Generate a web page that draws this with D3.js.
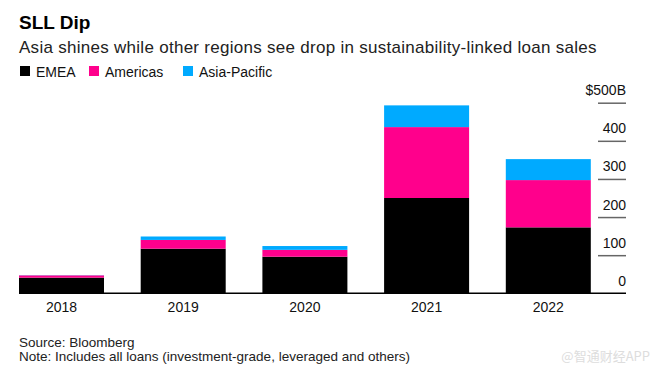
<!DOCTYPE html>
<html>
<head>
<meta charset="utf-8">
<script src="https://cdn.jsdelivr.net/npm/d3@7"></script>
<style>
  body { margin: 0; background: #fff; }
  svg { display: block; font-family: "Liberation Sans", Arial, sans-serif; }
</style>
</head>
<body>
<svg id="chart"></svg>
<script>
let w = 659;
let h = 375;

// data (USD billions)
const years = ['2018', '2019', '2020', '2021', '2022'];
const regions = ['EMEA', 'Americas', 'Asia-Pacific'];
const emea = [41, 117, 96, 250, 173];
const americas = [6, 23, 18, 186, 124];
const asiaPacific = [0.5, 9, 10, 57, 55];
const tickValues = [0, 100, 200, 300, 400, 500];

const colors = ['#000000', '#ff008c', '#00aaff'];

function createGraph() {
    const chart = d3.select('#chart')
        .attr('width', w)
        .attr('height', h);

    const rows = years.map((y, i) => ({
        year: y,
        'EMEA': emea[i],
        'Americas': americas[i],
        'Asia-Pacific': asiaPacific[i]
    }));

    const stacked = d3.stack().keys(regions)(rows);

    // bars are 85px wide with ~36.7px gaps, axis ticks to the right
    const x = d3.scaleBand()
        .domain(years)
        .range([19, 19 + 5 * 85 + 4 * 36.7])
        .paddingInner(36.7 / 121.7)
        .paddingOuter(0);

    const y = d3.scaleLinear()
        .domain([0, 500])
        .range([293.3, 102.7]);

    // title block
    chart.append('text')
        .attr('x', 19).attr('y', 29)
        .style('font-size', '19px')
        .style('font-weight', 'bold')
        .text('SLL Dip');

    chart.append('text')
        .attr('x', 19).attr('y', 53)
        .style('font-size', '17px')
        .style('letter-spacing', '0.28px')
        .style('fill', '#222')
        .text('Asia shines while other regions see drop in sustainability-linked loan sales');

    // legend
    const legendX = [20, 89, 183];
    const legend = chart.selectAll('.legend')
        .data(regions)
        .enter()
        .append('g')
        .attr('class', 'legend')
        .attr('transform', (d, i) => `translate(${legendX[i]},66)`);

    legend.append('rect')
        .attr('width', 10).attr('height', 10)
        .style('fill', (d, i) => colors[i]);

    legend.append('text')
        .attr('x', 16).attr('y', 10.5)
        .style('font-size', '14px')
        .style('fill', '#111')
        .text(d => d);

    // bars
    chart.selectAll('.series')
        .data(stacked)
        .enter()
        .append('g')
        .attr('class', 'series')
        .style('fill', (d, i) => colors[i])
        .selectAll('rect')
        .data(d => d)
        .enter()
        .append('rect')
        .attr('x', d => x(d.data.year))
        .attr('width', x.bandwidth())
        .attr('y', d => y(d[1]))
        .attr('height', d => y(d[0]) - y(d[1]));

    // y axis on the right: short tick lines with labels above
    const axis = d3.axisRight(y)
        .tickValues(tickValues)
        .tickSize(0)
        .tickFormat(d => d === 500 ? '$500B' : d);

    const yAxis = chart.append('g')
        .attr('transform', 'translate(626,0)')
        .call(axis);

    yAxis.select('.domain').remove();
    yAxis.selectAll('.tick line')
        .attr('x1', -28).attr('x2', 0)
        .attr('stroke', '#666')
        .attr('stroke-width', 1.5);
    yAxis.selectAll('.tick').filter(d => d === 0).select('line').remove();
    yAxis.selectAll('.tick text')
        .attr('x', 0)
        .attr('dy', null)
        .attr('y', -8)
        .attr('text-anchor', 'end')
        .style('font-size', '14px')
        .style('font-family', '"Liberation Sans", Arial, sans-serif')
        .style('fill', '#111');

    // baseline
    chart.append('line')
        .attr('x1', 19).attr('x2', 626)
        .attr('y1', y(0)).attr('y2', y(0))
        .attr('stroke', '#000')
        .attr('stroke-width', 1.5);

    // x axis labels
    const xAxis = chart.append('g')
        .attr('transform', `translate(0,${y(0)})`)
        .call(d3.axisBottom(x).tickSize(0).tickPadding(0));
    xAxis.select('.domain').remove();
    xAxis.selectAll('.tick text')
        .attr('dy', null)
        .attr('y', 19)
        .style('font-size', '14px')
        .style('font-family', '"Liberation Sans", Arial, sans-serif')
        .style('fill', '#111');

    // footnotes
    chart.append('text')
        .attr('x', 19).attr('y', 347)
        .style('font-size', '13.5px')
        .style('fill', '#222')
        .text('Source: Bloomberg');
    chart.append('text')
        .attr('x', 19).attr('y', 361)
        .style('font-size', '13.5px')
        .style('fill', '#222')
        .text('Note: Includes all loans (investment-grade, leveraged and others)');

    chart.append('text')
        .attr('x', 650).attr('y', 361)
        .attr('text-anchor', 'end')
        .style('font-size', '13px')
        .style('font-family', '"Noto Sans CJK SC", sans-serif')
        .style('fill', '#ddd')
        .text('@智通财经APP');
}

createGraph();
</script>
</body>
</html>
